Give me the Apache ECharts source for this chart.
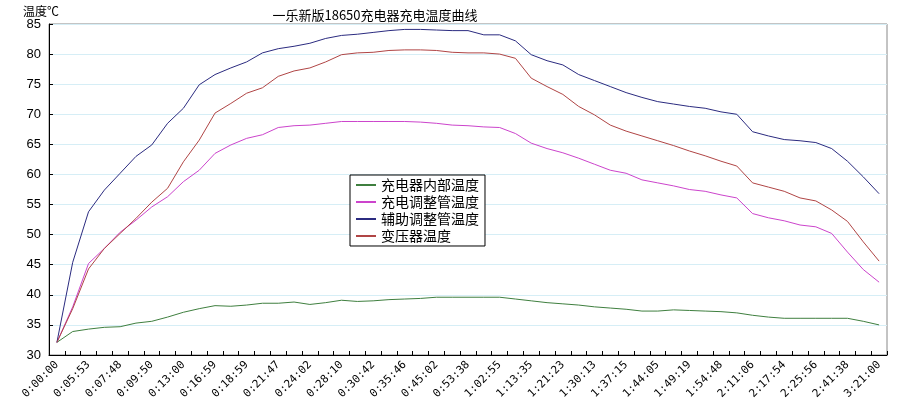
<!DOCTYPE html>
<html><head><meta charset="utf-8">
<script src="https://cdn.jsdelivr.net/npm/echarts@6/dist/echarts.min.js"></script>
<style>html,body{margin:0;padding:0;background:#fff}#c{width:900px;height:418px}</style>
</head><body><div id="c"></div>
<script>
const tickLabels = ["0:00:00","0:05:53","0:07:48","0:09:50","0:13:00","0:16:59","0:18:59","0:21:47","0:24:02","0:28:10","0:30:42","0:35:46","0:45:02","0:53:38","1:02:55","1:13:35","1:21:23","1:30:13","1:37:15","1:44:05","1:49:19","1:54:48","2:11:06","2:17:54","2:25:56","2:41:38","3:21:00"];
const categories = [];
for (let i = 0; i < tickLabels.length; i++) { categories.push(tickLabels[i]); if (i < tickLabels.length - 1) categories.push(""); }
const seriesNames = ["充电器内部温度","充电调整管温度","辅助调整管温度","变压器温度"];
const green = [32.1,33.9,34.3,34.6,34.7,35.3,35.6,36.3,37.1,37.7,38.2,38.1,38.3,38.6,38.6,38.8,38.4,38.7,39.1,38.9,39,39.2,39.3,39.4,39.6,39.6,39.6,39.6,39.6,39.3,39,38.7,38.5,38.3,38,37.8,37.6,37.3,37.3,37.5,37.4,37.3,37.2,37,36.6,36.3,36.1,36.1,36.1,36.1,36.1,35.6,35];
const pink = [32.1,38,45.2,47.7,50.4,52.4,54.6,56.3,58.8,60.7,63.5,64.9,66,66.6,67.8,68.1,68.2,68.5,68.8,68.8,68.8,68.8,68.8,68.7,68.5,68.2,68.1,67.9,67.8,66.8,65.2,64.3,63.6,62.7,61.7,60.7,60.2,59.1,58.6,58.1,57.5,57.2,56.6,56.1,53.5,52.8,52.3,51.6,51.3,50.2,47.1,44.2,42.1];
const blue = [32.1,45.4,53.8,57.4,60.2,63,64.9,68.5,71,74.9,76.6,77.7,78.7,80.2,80.9,81.3,81.8,82.6,83.1,83.3,83.6,83.9,84.1,84.1,84,83.9,83.9,83.2,83.2,82.2,79.9,78.9,78.2,76.6,75.6,74.6,73.6,72.8,72.1,71.7,71.3,71,70.4,70,67.1,66.4,65.8,65.6,65.3,64.3,62.2,59.6,56.8];
const red = [32.1,37.7,44.3,47.7,50.2,52.7,55.4,57.7,62.1,65.7,70.2,71.8,73.5,74.4,76.3,77.2,77.7,78.7,79.9,80.2,80.3,80.6,80.7,80.7,80.6,80.3,80.2,80.2,80,79.3,76,74.6,73.3,71.3,69.9,68.2,67.2,66.4,65.6,64.8,63.9,63.1,62.2,61.4,58.6,57.9,57.2,56.1,55.6,54.1,52.2,48.8,45.6];
const colors = ["#3f7f3f","#cc44cc","#2b2b80","#b04545"];
const chart = echarts.init(document.getElementById('c'));
const data = [green, pink, blue, red];
chart.setOption({
  animation:false,
  backgroundColor:'#fff',
  title:{text:'一乐新版18650充电器充电温度曲线',left:370,top:4,textAlign:'center',textStyle:{fontSize:13,fontWeight:'normal',color:'#000',fontFamily:'Noto Sans CJK SC'}},
  legend:{orient:'vertical',left:350,top:175,itemWidth:20,itemHeight:2,itemGap:3,icon:'rect',
    borderColor:'#000',borderWidth:1,padding:[3,6,3,6],backgroundColor:'#fff',
    textStyle:{fontSize:14,color:'#000',fontFamily:'Noto Sans CJK SC'},data:seriesNames},
  grid:{left:49,right:13,top:24,bottom:63,show:true,borderColor:'#888',borderWidth:1,backgroundColor:'transparent'},
  xAxis:{type:'category',data:categories,boundaryGap:true,
    axisLine:{lineStyle:{color:'#000'}},
    axisTick:{show:true,interval:0,length:4,inside:true,lineStyle:{color:'#000'}},
    axisLabel:{interval:(i)=>i%2===0,rotate:45,fontSize:11,color:'#000',fontFamily:'DejaVu Sans Mono',margin:8}},
  yAxis:{type:'value',min:30,max:85,interval:5,name:'温度℃',nameLocation:'end',
    nameGap:6,nameTextStyle:{fontSize:12,color:'#000',align:'right',padding:[0,-10,0,0],fontFamily:'Noto Sans CJK SC'},
    axisLine:{show:true,lineStyle:{color:'#000'}},
    axisTick:{show:true,inside:true,length:4,lineStyle:{color:'#000'}},
    axisLabel:{fontSize:13,color:'#000',fontFamily:'Liberation Sans'},
    splitLine:{lineStyle:{color:'#d6eef6'}}},
  series: seriesNames.map((n,k)=>({name:n,type:'line',data:data[k],symbol:'none',
    lineStyle:{width:1,color:colors[k]},itemStyle:{color:colors[k]}}))
});
</script></body></html>
